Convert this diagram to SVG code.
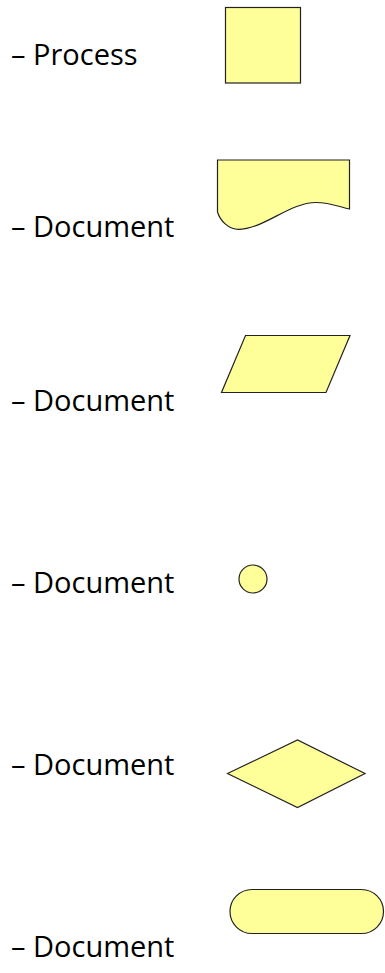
<svg xmlns="http://www.w3.org/2000/svg" width="385" height="973" viewBox="0 0 385 973">
  <style>
    .shape { fill: #ffff99; stroke: #222; stroke-width: 1.2; stroke-linejoin: miter; }
    .label { font-family: "Open Sans", "Liberation Sans", sans-serif; font-size: 29px; fill: #000; }
  </style>
  <rect width="385" height="973" fill="#fff"/>

  <g id="process">
    <text class="label" x="11" y="65">– Process</text>
    <rect class="shape" x="225.5" y="7.5" width="75" height="75.5"/>
  </g>

  <g id="document">
    <text class="label" x="11" y="237">– Document</text>
    <path class="shape" d="M217.5,160 H349.5 V209 C340,207 330,202.5 316,202.5 C290,202.5 265,228 240,229.3 C228,230 220,220 217.5,212 Z"/>
  </g>

  <g id="data">
    <text class="label" x="11" y="411">– Document</text>
    <polygon class="shape" points="245.5,335.5 350,335.5 326,392.5 221.5,392.5"/>
  </g>

  <g id="connector">
    <text class="label" x="11" y="593">– Document</text>
    <circle class="shape" cx="253" cy="579" r="14"/>
  </g>

  <g id="decision">
    <text class="label" x="11" y="775">– Document</text>
    <polygon class="shape" points="227.5,773.5 297.5,740 365,773.5 297.5,807.5"/>
  </g>

  <g id="terminator">
    <text class="label" x="11" y="957">– Document</text>
    <rect class="shape" x="230" y="889.5" width="153.5" height="44" rx="22" ry="22"/>
  </g>

  <g id="connectors"/>
</svg>
